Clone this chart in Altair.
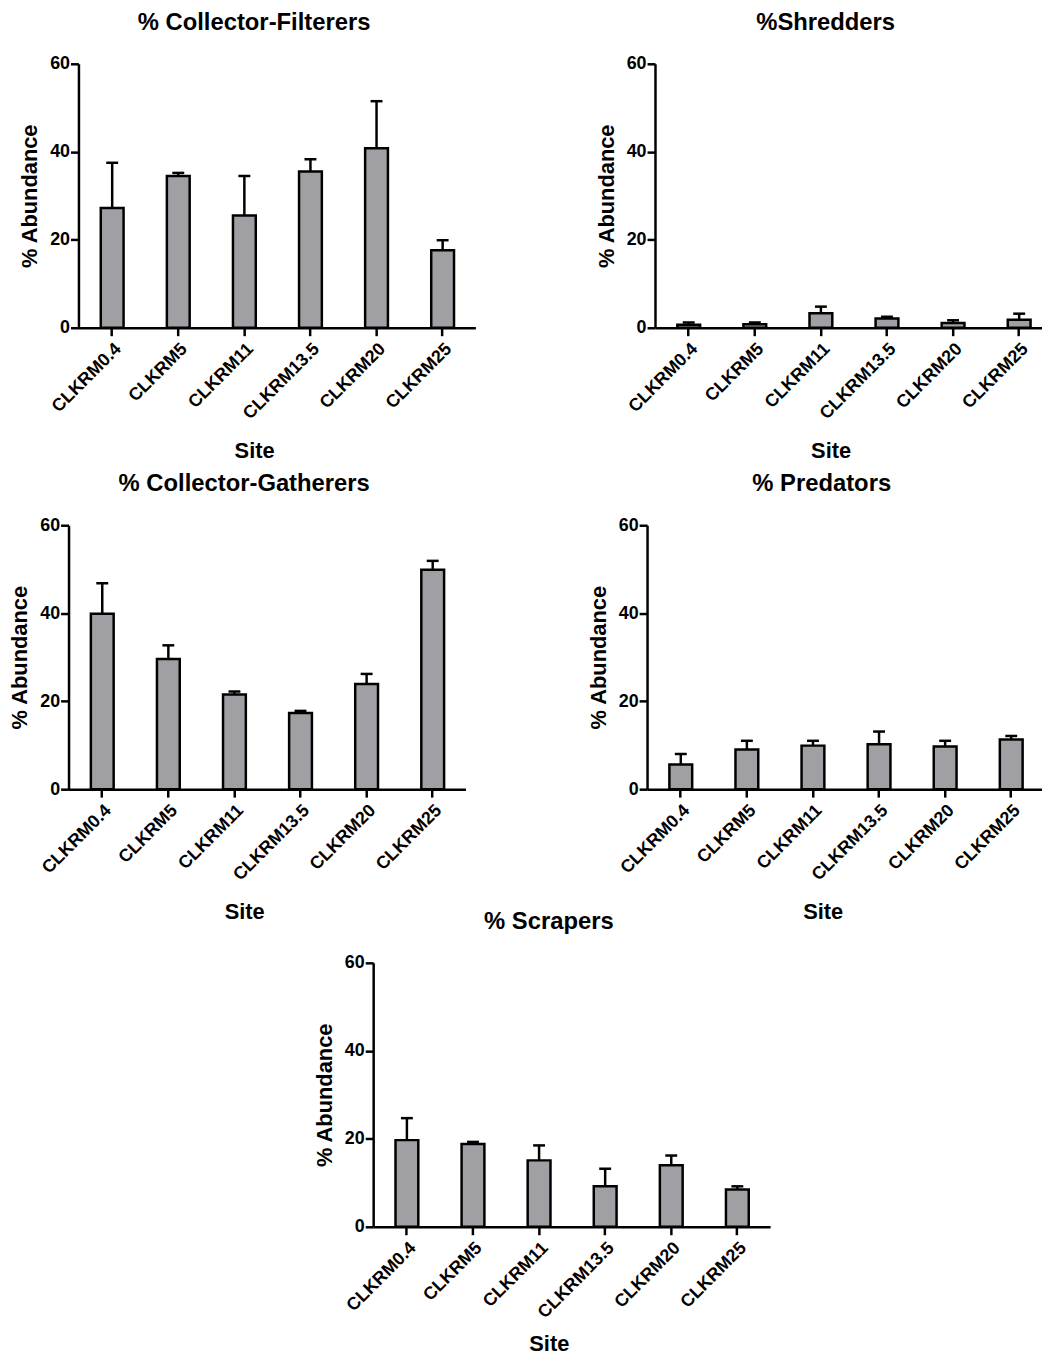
import altair as alt
import pandas as pd

sites = ["CLKRM0.4", "CLKRM5", "CLKRM11", "CLKRM13.5", "CLKRM20", "CLKRM25"]

cf_title = "% Collector-Filterers"
cf_mean = [27.2, 34.5, 25.5, 35.5, 40.8, 17.6]
cf_sem = [10.3, 0.7, 9.0, 2.8, 10.7, 2.3]

sh_title = "%Shredders"
sh_mean = [0.7, 0.8, 3.3, 2.1, 1.1, 1.8]
sh_sem = [0.5, 0.4, 1.5, 0.4, 0.6, 1.4]

cg_title = "% Collector-Gatherers"
cg_mean = [39.9, 29.6, 21.5, 17.3, 23.9, 49.9]
cg_sem = [6.9, 3.1, 0.7, 0.5, 2.3, 2.0]

pr_title = "% Predators"
pr_mean = [5.6, 9.0, 9.9, 10.2, 9.7, 11.3]
pr_sem = [2.4, 2.0, 1.1, 2.9, 1.3, 0.8]

sc_title = "% Scrapers"
sc_mean = [19.7, 18.8, 15.1, 9.2, 14.0, 8.5]
sc_sem = [5.0, 0.5, 3.4, 4.0, 2.2, 0.7]

y_ticks = [0, 20, 40, 60]
FONT = "Liberation Sans"

STEP = 66.6          # px per site
PAD_INNER = 0.655    # gap between bars
LEFT_GAP = 22.5      # px before the first bar


def panel(title, means, sems, width=400, x_title_pad=18):
    df = pd.DataFrame({
        "site": sites,
        "mean": means,
        "upper": [m + s for m, s in zip(means, sems)],
    })
    used = STEP * (len(sites) - PAD_INNER)
    rem = width - used
    x = alt.X(
        "site:N", sort=sites, title="Site",
        scale=alt.Scale(paddingInner=PAD_INNER, paddingOuter=rem / (2 * STEP),
                        align=LEFT_GAP / rem),
        axis=alt.Axis(labelAngle=-45, titleX=177, titlePadding=x_title_pad),
    )
    yscale = alt.Scale(domain=[0, 60])
    base = alt.Chart(df).encode(x=x)
    err = base.mark_rule(color="black", strokeWidth=2.5).encode(
        y=alt.Y("mean:Q", scale=yscale, title="% Abundance",
                axis=alt.Axis(values=y_ticks)),
        y2="upper:Q",
    )
    bars = base.mark_bar(fill="#a0a0a4", stroke="black", strokeWidth=2.5).encode(
        y=alt.Y("mean:Q", scale=yscale, title="% Abundance")
    )
    cap = base.mark_tick(color="black", thickness=2.5, size=12, opacity=1).encode(
        y=alt.Y("upper:Q", scale=yscale, title="% Abundance")
    )
    return alt.layer(err, bars, cap).properties(
        width=width, height=266,
        title=alt.TitleParams(title, frame="group", anchor="middle", dx=-23),
    )


def spacer(w):
    return alt.Chart(pd.DataFrame({"z": [0]})).mark_point(opacity=0).encode(
        x=alt.value(0), y=alt.value(0)
    ).properties(width=w, height=10)


row1 = alt.hconcat(
    spacer(10),
    alt.hconcat(panel(cf_title, cf_mean, cf_sem),
                panel(sh_title, sh_mean, sh_sem, width=390),
                spacing=181, bounds="flush"),
    spacing=0, bounds="flush",
)
row2 = alt.hconcat(
    panel(cg_title, cg_mean, cg_sem), panel(pr_title, pr_mean, pr_sem, width=398),
    spacing=183, bounds="flush",
)
row3 = alt.hconcat(
    spacer(307), panel(sc_title, sc_mean, sc_sem, x_title_pad=12),
    spacing=0, bounds="flush",
)

chart = alt.vconcat(
    alt.vconcat(row1, row2, spacing=465, bounds="flush"),
    row3,
    spacing=906, bounds="flush",
).properties(
    padding={"left": 0, "top": -2, "right": 0, "bottom": 0}
).configure_view(stroke=None).configure_axis(
    grid=False,
    domainColor="black", domainWidth=2.5,
    tickColor="black", tickWidth=2.5,
    labelFont=FONT, labelFontWeight="bold", labelFontSize=18, labelColor="black",
    titleFont=FONT, titleFontWeight="bold", titleFontSize=22, titleColor="black",
).configure_axisX(
    tickSize=8, labelPadding=4,
).configure_axisY(
    tickSize=8, labelPadding=1, titlePadding=8,
).configure_title(
    font=FONT, fontSize=24, fontWeight="bold", color="black", offset=20,
)

chart.save("out.html", embed_options={"renderer": "svg", "actions": False})
